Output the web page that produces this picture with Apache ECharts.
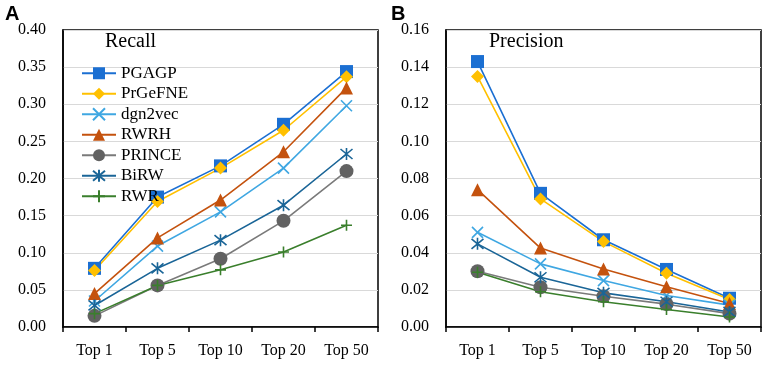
<!DOCTYPE html>
<html>
<head>
<meta charset="utf-8">
<script src="https://cdn.jsdelivr.net/npm/echarts@6/dist/echarts.min.js"></script>
<style>html,body{margin:0;padding:0;background:#fff}#c{width:768px;height:365px}</style>
</head>
<body>
<div id="c"></div>
<script>
const categories = ['Top 1', 'Top 5', 'Top 10', 'Top 20', 'Top 50'];
const methods = ['PGAGP', 'PrGeFNE', 'dgn2vec', 'RWRH', 'PRINCE', 'BiRW', 'RWR'];

// Panel A: Recall
const recallPGAGP   = [0.079, 0.175, 0.217, 0.273, 0.344];
const recallPrGeFNE = [0.076, 0.169, 0.214, 0.265, 0.337];
const recallDgn2vec = [0.035, 0.109, 0.155, 0.214, 0.298];
const recallRWRH    = [0.045, 0.120, 0.171, 0.236, 0.322];
const recallPRINCE  = [0.015, 0.056, 0.092, 0.143, 0.210];
const recallBiRW    = [0.029, 0.079, 0.117, 0.164, 0.233];
const recallRWR     = [0.018, 0.056, 0.077, 0.101, 0.137];

// Panel B: Precision
const precPGAGP   = [0.143, 0.072, 0.047, 0.031, 0.0155];
const precPrGeFNE = [0.135, 0.069, 0.046, 0.029, 0.0148];
const precDgn2vec = [0.051, 0.034, 0.025, 0.017, 0.0118];
const precRWRH    = [0.074, 0.0425, 0.0313, 0.0217, 0.0127];
const precPRINCE  = [0.030, 0.0214, 0.0166, 0.0123, 0.0072];
const precBiRW    = [0.0448, 0.0268, 0.0184, 0.0136, 0.0081];
const precRWR     = [0.0295, 0.019, 0.0136, 0.0094, 0.0054];

const yTicksA = {min: 0, max: 0.4, interval: 0.05};
const yTicksB = {min: 0, max: 0.16, interval: 0.02};

const styles = {
  PGAGP:   {line: '#1b6fd2', fill: '#1b6fd2', symbol: 'rect', size: 13},
  PrGeFNE: {line: '#ffc000', fill: '#ffc000', symbol: 'diamond', size: 13},
  dgn2vec: {line: '#3fa7e2', fill: '#3fa7e2', symbol: 'path://M0,0L10,10M10,0L0,10', size: 11, stroke: true},
  RWRH:    {line: '#c4520e', fill: '#c4520e', symbol: 'triangle', size: 13},
  PRINCE:  {line: '#7a7a7a', fill: '#626262', symbol: 'circle', size: 14},
  BiRW:    {line: '#1a6597', fill: '#1a6597', symbol: 'path://M0,0L10,10M10,0L0,10M5,-1L5,11', size: 12, stroke: true},
  RWR:     {line: '#3a7f2c', fill: '#3a7f2c', symbol: 'path://M5,0L5,10M0,5L10,5', size: 11, stroke: true}
};

const recallData = [recallPGAGP, recallPrGeFNE, recallDgn2vec, recallRWRH, recallPRINCE, recallBiRW, recallRWR];
const precData = [precPGAGP, precPrGeFNE, precDgn2vec, precRWRH, precPRINCE, precBiRW, precRWR];

function mkSeries(name, data, idx) {
  const s = styles[name];
  const item = s.stroke
    ? {color: s.fill, borderColor: s.fill, borderWidth: 1.6}
    : {color: s.fill, borderWidth: 0};
  return {
    name: name, type: 'line', xAxisIndex: idx, yAxisIndex: idx,
    data: data, symbol: s.symbol, symbolSize: s.size, showSymbol: true,
    lineStyle: {color: s.line, width: 1.6},
    itemStyle: item,
    emphasis: {disabled: true},
    animation: false
  };
}

const serif = '"Liberation Serif", "Times New Roman", serif';

function xAxis(idx) {
  return {
    type: 'category', gridIndex: idx, data: categories, boundaryGap: true,
    axisLine: {lineStyle: {color: '#000', width: 1.5}},
    axisTick: {show: true, inside: false, length: 5, lineStyle: {color: '#000', width: 1.5}},
    axisLabel: {color: '#000', fontFamily: serif, fontSize: 16, margin: 16}
  };
}
function yAxis(idx, t) {
  return {
    type: 'value', gridIndex: idx, min: t.min, max: t.max, interval: t.interval,
    axisLine: {show: true, lineStyle: {color: '#000', width: 1.5}},
    axisTick: {show: false},
    splitLine: {lineStyle: {color: '#d9d9d9', width: 1}},
    axisLabel: {color: '#000', fontFamily: serif, fontSize: 16, margin: 17,
      formatter: v => v.toFixed(2)}
  };
}

const series = [];
methods.forEach((m, i) => series.push(mkSeries(m, recallData[i], 0)));
methods.forEach((m, i) => series.push(mkSeries(m, precData[i], 1)));

const chart = echarts.init(document.getElementById('c'), null, {renderer: 'canvas'});
chart.setOption({
  animation: false,
  backgroundColor: '#fff',
  grid: [
    {left: 63, right: 390, top: 30, bottom: 38, show: true, borderColor: '#000', borderWidth: 1.5, backgroundColor: 'transparent'},
    {left: 446, right: 7, top: 30, bottom: 38, show: true, borderColor: '#000', borderWidth: 1.5, backgroundColor: 'transparent'}
  ],
  title: [
    {text: 'Recall', left: 105, top: 32, padding: 0, textStyle: {fontFamily: serif, fontSize: 20, fontWeight: 'normal', color: '#000'}},
    {text: 'Precision', left: 489, top: 32, padding: 0, textStyle: {fontFamily: serif, fontSize: 20, fontWeight: 'normal', color: '#000'}},
    {text: 'A', left: 5, top: 4, padding: 0, textStyle: {fontFamily: '"Liberation Sans", Arial, sans-serif', fontSize: 20, fontWeight: 'bold', color: '#000'}},
    {text: 'B', left: 391, top: 4, padding: 0, textStyle: {fontFamily: '"Liberation Sans", Arial, sans-serif', fontSize: 20, fontWeight: 'bold', color: '#000'}}
  ],
  legend: {
    data: methods, orient: 'vertical', left: 81, top: 63, padding: 0,
    itemWidth: 34, itemHeight: 15, itemGap: 0,
    textStyle: {fontFamily: serif, fontSize: 17, color: '#000', lineHeight: 20.5},
    selectedMode: false
  },
  xAxis: [xAxis(0), xAxis(1)],
  yAxis: [yAxis(0, yTicksA), yAxis(1, yTicksB)],
  series: series
});
</script>
</body>
</html>
